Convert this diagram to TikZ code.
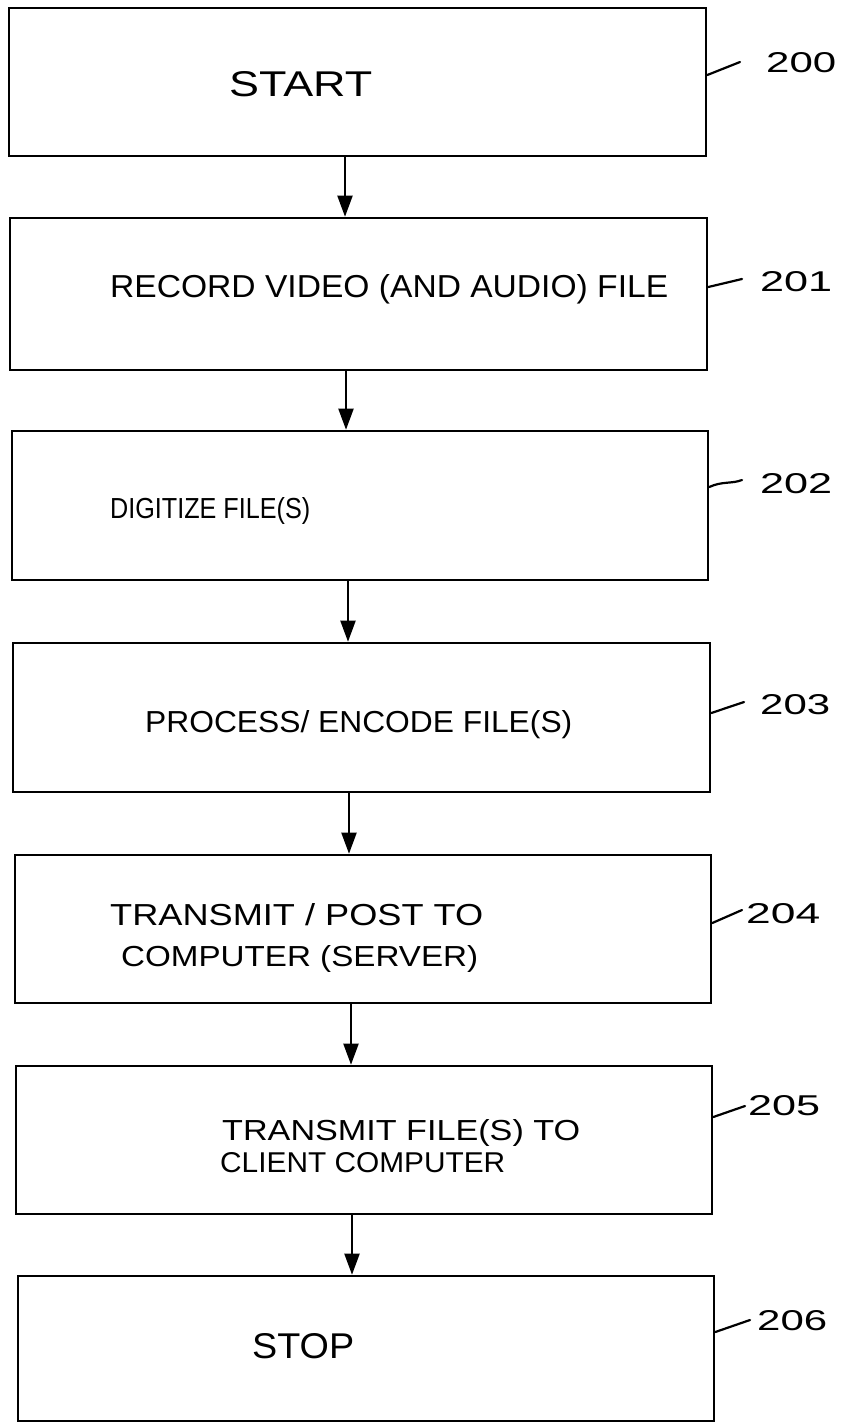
\documentclass[tikz,border=0pt]{standalone}
\usepackage{graphicx}
\usepackage{fontspec}
\setmainfont{Liberation Sans}
\usetikzlibrary{arrows.meta}
\newcommand\hwtext[3]{\resizebox{#1pt}{#2pt}{#3}}
\begin{document}
\begin{tikzpicture}[x=1pt,y=-1pt,
  stepbox/.style={draw=black,line width=2.6pt,inner sep=0pt},
  txt/.style={inner sep=0pt,anchor=base west,text=black},
  flow/.style={draw=black,line width=2pt,-{Triangle[width=15pt,length=21pt]}},
  lead/.style={draw=black,line width=2.2pt,line cap=round}]
\fill[white] (0,0) rectangle (842,1425);
\useasboundingbox (0,0) rectangle (842,1425);
% boxes
\node[stepbox,minimum width=697pt,minimum height=148pt] (b0) at (357.5,82) {};
\node[stepbox,minimum width=697pt,minimum height=152pt] (b1) at (358.5,294) {};
\node[stepbox,minimum width=696pt,minimum height=149pt] (b2) at (360,505.5) {};
\node[stepbox,minimum width=697pt,minimum height=149pt] (b3) at (361.5,717.5) {};
\node[stepbox,minimum width=696pt,minimum height=148pt] (b4) at (363,929) {};
\node[stepbox,minimum width=696pt,minimum height=148pt] (b5) at (364,1140) {};
\node[stepbox,minimum width=696pt,minimum height=145pt] (b6) at (366,1348.5) {};
% texts
\node[txt] (t0) at (229,96) {\hwtext{143}{25}{START}};
\node[txt] (t1) at (110,297) {\hwtext{558}{23}{RECORD VIDEO (AND AUDIO) FILE}};
\node[txt] (t2) at (110,518) {\hwtext{200}{21}{DIGITIZE FILE(S)}};
\node[txt] (t3) at (145,732) {\hwtext{427}{22}{PROCESS/ ENCODE FILE(S)}};
\node[txt] (t4a) at (110,925) {\hwtext{373}{22}{TRANSMIT / POST TO}};
\node[txt] (t4b) at (121,966) {\hwtext{357}{21}{COMPUTER (SERVER)}};
\node[txt] (t5a) at (222,1140) {\hwtext{358}{21}{TRANSMIT FILE(S) TO}};
\node[txt] (t5b) at (220,1172) {\hwtext{285}{20}{CLIENT COMPUTER}};
\node[txt] (t6) at (252,1358) {\hwtext{102}{25}{STOP}};
% labels
\node[txt] (l0) at (766,72) {\hwtext{70}{20}{200}};
\node[txt] (l1) at (760,291) {\hwtext{72}{20}{201}};
\node[txt] (l2) at (760,493) {\hwtext{72}{20}{202}};
\node[txt] (l3) at (760,714) {\hwtext{70}{20}{203}};
\node[txt] (l4) at (746,923) {\hwtext{74}{20}{204}};
\node[txt] (l5) at (748,1115) {\hwtext{72}{20}{205}};
\node[txt] (l6) at (757,1330) {\hwtext{70}{20}{206}};
% leader ends
\coordinate (e0) at (740,62);
\coordinate (e1) at (742,279);
\coordinate (e2) at (742,480);
\coordinate (e3) at (744,702);
\coordinate (e4) at (742,910);
\coordinate (e5) at (745,1106);
\coordinate (e6) at (750,1320);
\draw[lead] (b0.east |- 0,75) -- (e0);
\draw[lead] (b1.east |- 0,287) -- (e1);
\draw[lead] (b2.east |- 0,487) .. controls (722,481) and (732,484) .. (e2);
\draw[lead] (b3.east |- 0,713) -- (e3);
\draw[lead] (b4.east |- 0,923) -- (e4);
\draw[lead] (b5.east |- 0,1117) -- (e5);
\draw[lead] (b6.east |- 0,1332) -- (e6);
% arrow columns
\coordinate (ax1) at (345,0);
\coordinate (ax2) at (346,0);
\coordinate (ax3) at (348,0);
\coordinate (ax4) at (349,0);
\coordinate (ax5) at (351,0);
\coordinate (ax6) at (352,0);
\draw[flow] (b0.south -| ax1) -- (b1.north -| ax1);
\draw[flow] (b1.south -| ax2) -- (b2.north -| ax2);
\draw[flow] (b2.south -| ax3) -- (b3.north -| ax3);
\draw[flow] (b3.south -| ax4) -- (b4.north -| ax4);
\draw[flow] (b4.south -| ax5) -- (b5.north -| ax5);
\draw[flow] (b5.south -| ax6) -- (b6.north -| ax6);
\end{tikzpicture}
\end{document}
